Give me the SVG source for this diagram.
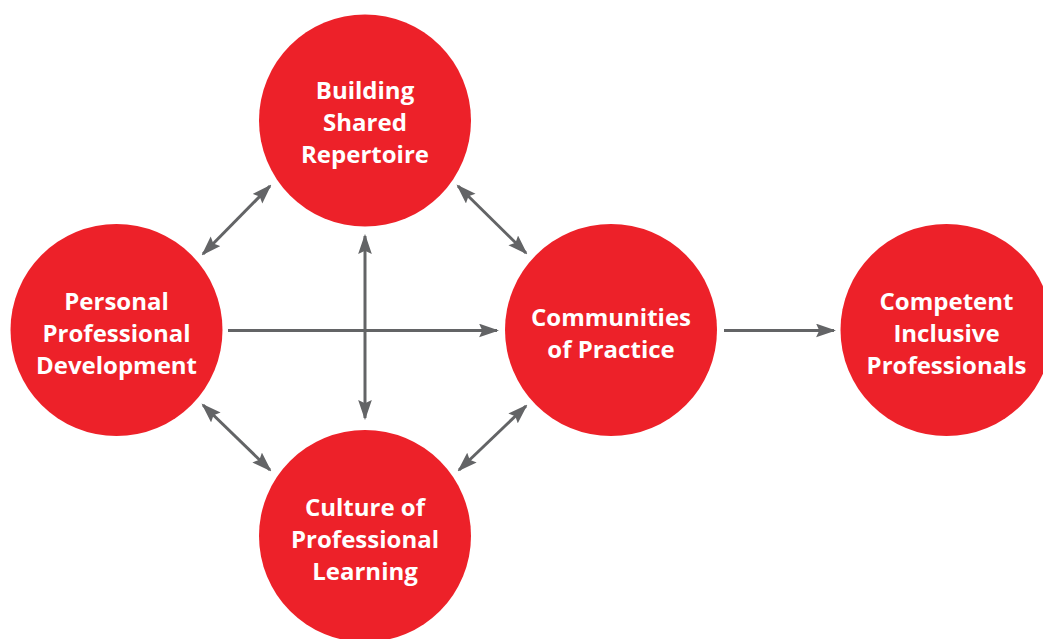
<svg xmlns="http://www.w3.org/2000/svg" width="1043" height="639" viewBox="0 0 1043 639">
<style>
.node{fill:#ED2129;}
.lbl{font-family:"Open Sans","Liberation Sans",sans-serif;font-weight:bold;font-size:24px;fill:#fff;text-anchor:middle;}
.conn{stroke:#636466;stroke-width:3;fill:none;}
</style>
<defs>
<marker id="ah" markerUnits="userSpaceOnUse" markerWidth="20" markerHeight="14" refX="17" refY="6.5" orient="auto-start-reverse" viewBox="0 0 19 13">
<path d="M0,0 L19,6.5 L0,13 L3,6.5 Z" fill="#636466"/>
</marker>
</defs>
<rect width="1043" height="639" fill="#fff"/>
<g id="connectors">
<line class="conn" x1="203" y1="254" x2="270" y2="186" marker-start="url(#ah)" marker-end="url(#ah)"/>
<line class="conn" x1="458" y1="186" x2="526" y2="253" marker-start="url(#ah)" marker-end="url(#ah)"/>
<line class="conn" x1="365" y1="236" x2="365" y2="418" marker-start="url(#ah)" marker-end="url(#ah)"/>
<line class="conn" x1="203" y1="405" x2="270" y2="470" marker-start="url(#ah)" marker-end="url(#ah)"/>
<line class="conn" x1="526" y1="406" x2="459" y2="470" marker-start="url(#ah)" marker-end="url(#ah)"/>
<line class="conn" x1="228" y1="330.5" x2="497" y2="330.5" marker-end="url(#ah)"/>
<line class="conn" x1="724" y1="330.5" x2="834" y2="330.5" marker-end="url(#ah)"/>
</g>
<g id="building">
<circle class="node" cx="365" cy="120.5" r="106"/>
<text class="lbl" x="365" y="98.5">Building</text>
<text class="lbl" x="365" y="130.5">Shared</text>
<text class="lbl" x="365" y="162.5">Repertoire</text>
</g>
<g id="personal">
<circle class="node" cx="116.5" cy="330" r="106"/>
<text class="lbl" x="116.5" y="310">Personal</text>
<text class="lbl" x="116.5" y="342">Professional</text>
<text class="lbl" x="116.5" y="374">Development</text>
</g>
<g id="communities">
<circle class="node" cx="611" cy="330" r="106"/>
<text class="lbl" x="611" y="326">Communities</text>
<text class="lbl" x="611" y="358">of Practice</text>
</g>
<g id="competent">
<circle class="node" cx="946.5" cy="330" r="106"/>
<text class="lbl" x="946.5" y="310">Competent</text>
<text class="lbl" x="946.5" y="342">Inclusive</text>
<text class="lbl" x="946.5" y="374">Professionals</text>
</g>
<g id="culture">
<circle class="node" cx="365" cy="536" r="106"/>
<text class="lbl" x="365" y="516">Culture of</text>
<text class="lbl" x="365" y="548">Professional</text>
<text class="lbl" x="365" y="580">Learning</text>
</g>
</svg>
